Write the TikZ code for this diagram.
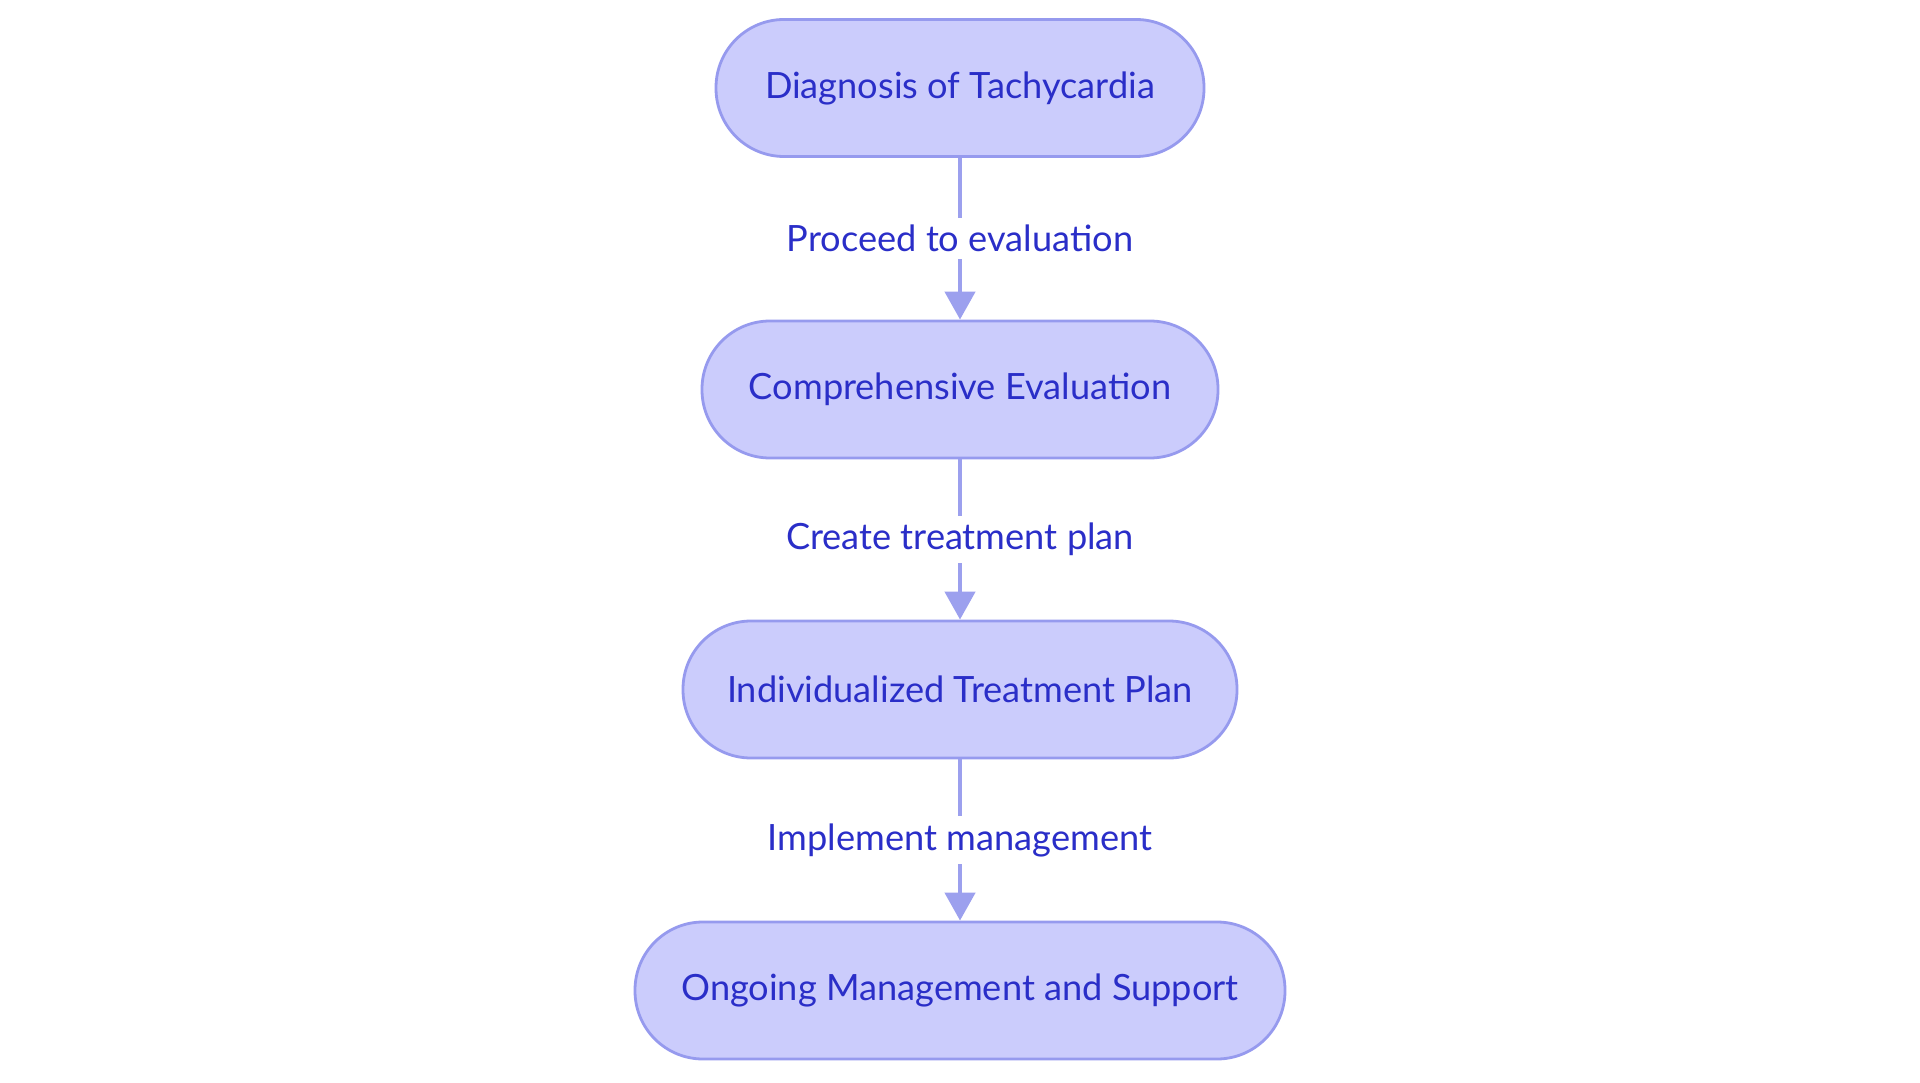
\documentclass[tikz,border=0pt]{standalone}
\usepackage{fontspec}
\setmainfont{Lato}
\usetikzlibrary{arrows.meta}
\definecolor{boxfill}{RGB}{203,204,252}
\definecolor{boxline}{RGB}{150,154,238}
\definecolor{textblue}{RGB}{42,46,200}
\definecolor{linkline}{RGB}{156,160,238}
\begin{document}
\begin{tikzpicture}[font=\fontsize{10.3}{12}\selectfont]
  \tikzset{step box/.style={rectangle, draw=boxline, line width=0.8pt, fill=boxfill,
      rounded corners=0.68cm, minimum height=1.37cm, text=textblue},
    link/.style={draw=linkline, line width=1.3pt, -{Triangle[length=0.28cm, width=0.3cm]}},
    link label/.style={fill=white, text=textblue, inner sep=2pt}}
  \useasboundingbox (0, 0) rectangle (19.2, -10.83);

  % Steps of the pathway
  \node[step box, minimum width=4.88cm] (diag) at (9.6, -0.88) {Diagnosis of Tachycardia};
  \node[step box, minimum width=5.16cm] (eval) at (9.6, -3.895) {Comprehensive Evaluation};
  \node[step box, minimum width=5.54cm] (plan) at (9.6, -6.895) {Individualized Treatment Plan};
  \node[step box, minimum width=6.50cm] (care) at (9.6, -9.905) {Ongoing Management and Support};

  % Links with labels
  \draw[link] (diag) -- node[link label] {Proceed to evaluation} (eval);
  \draw[link] (eval) -- node[link label] {Create treatment plan} (plan);
  \draw[link] (plan) -- node[link label] {Implement management} (care);
\end{tikzpicture}
\end{document}
